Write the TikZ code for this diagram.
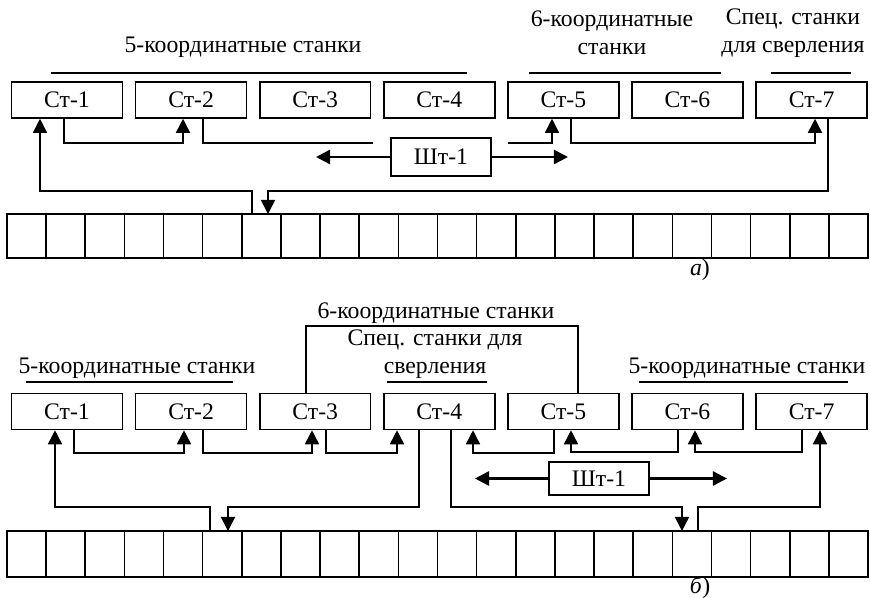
\documentclass[tikz,border=0pt]{standalone}
\usepackage{fontspec}
\setmainfont{Liberation Serif}
\usetikzlibrary{arrows.meta}

\tikzset{
    stbox/.style={draw, line width=0.9pt, minimum width=2.22cm, minimum height=0.72cm, inner sep=0pt},
    shtbox/.style={draw, line width=0.9pt, minimum width=2cm, inner sep=0pt},
    arr/.style={-{Triangle[length=8pt,width=8pt]}},
    harr/.style={line width=1.4pt, -{Triangle[length=8pt,width=8pt]}}
}

\begin{document}
\begin{tikzpicture}[x=0.02cm, y=-0.02cm, line width=0.9pt, font=\fontsize{13.5}{16}\selectfont]
    \useasboundingbox (0,0) rectangle (870,598);

    % a)
    \foreach \i in {1,...,7}
        \node[stbox] (s\i a) at ({67+124.1*(\i-1)}, 100) {Ст-\i};
    \node[shtbox, minimum height=0.76cm] (shta) at (441,157) {Шт-1};

    \node (lab5a) at (243,47) {5-координатные станки};
    \node[align=center] (lab6a) at (612,33) {6-координатные\\станки};
    \node[align=center] (labsa) at (793,33) {Спец. станки\\для сверления};
    \draw (51,73) -- (467,73);
    \draw (529,73) -- (721,73);
    \draw (771,73) -- (851,73);

    \coordinate (raila) at (7,214);
    \draw (raila) rectangle (868,258);
    \foreach \i in {1,...,21}
        \draw ({7+39.14*\i},214) -- ++(0,44);
    \node (capa) at (700,270) {\textit{а})};

    \draw[arr] (s1a.south -| 64,0) |- (183,143) -- (s2a.south -| 183,0);
    \draw (s2a.south -| 203,0) |- (373,143);
    \draw[arr] (508,143) -| (s5a.south -| 552,0);
    \draw[arr] (s5a.south -| 571,0) |- (815,143) -- (s7a.south -| 815,0);
    \draw[harr] (shta.west) -- (316,157);
    \draw[harr] (shta.east) -- (568,157);
    \draw[arr] (raila -| 252,0) |- (40,191) -- (s1a.south -| 40,0);
    \draw[arr] (s7a.south -| 828,0) |- (268,191) -- (raila -| 268,0);

    % b)
    \foreach \i in {1,...,7}
        \node[stbox] (s\i b) at ({67+124.1*(\i-1)}, 411.5) {Ст-\i};
    \node[shtbox, minimum height=0.66cm] (shtb) at (599,478.5) {Шт-1};

    \node (lab6b) at (436,313) {6-координатные станки};
    \node[align=center] (labsb) at (435,354) {Спец. станки для\\сверления};
    \node (lab5b) at (137,368) {5-координатные станки};
    \node (lab5c) at (747,368) {5-координатные станки};
    \draw (26,382) -- (233,382);
    \draw (387,382) -- (487,382);
    \draw (639,382) -- (848,382);
    \draw (s3b.north -| 306,0) |- (578,326) -- (s5b.north -| 578,0);

    \coordinate (railb) at (7,531);
    \draw (railb) rectangle (868,577);
    \foreach \i in {1,...,21}
        \draw ({7+39.14*\i},531) -- ++(0,46);
    \node (capb) at (700,588) {\textit{б})};

    \draw[arr] (s1b.south -| 74,0) |- (184,453) -- (s2b.south -| 184,0);
    \draw[arr] (s2b.south -| 203,0) |- (312,453) -- (s3b.south -| 312,0);
    \draw[arr] (s3b.south -| 326,0) |- (397,453) -- (s4b.south -| 397,0);
    \draw[arr] (s5b.south -| 554,0) |- (473,453) -- (s4b.south -| 473,0);
    \draw[arr] (s6b.south -| 678,0) |- (571,452) -- (s5b.south -| 571,0);
    \draw[arr] (s7b.south -| 802,0) |- (695,452) -- (s6b.south -| 695,0);
    \draw[harr] (shtb.west) -- (475,478.5);
    \draw[harr] (shtb.east) -- (727,478.5);
    \draw[arr] (railb -| 210,0) |- (55,507) -- (s1b.south -| 55,0);
    \draw[arr] (s4b.south -| 419,0) |- (228,507) -- (railb -| 228,0);
    \draw[arr] (s4b.south -| 451,0) |- (682,507) -- (railb -| 682,0);
    \draw[arr] (railb -| 698,0) |- (820,507) -- (s7b.south -| 820,0);
\end{tikzpicture}
\end{document}
